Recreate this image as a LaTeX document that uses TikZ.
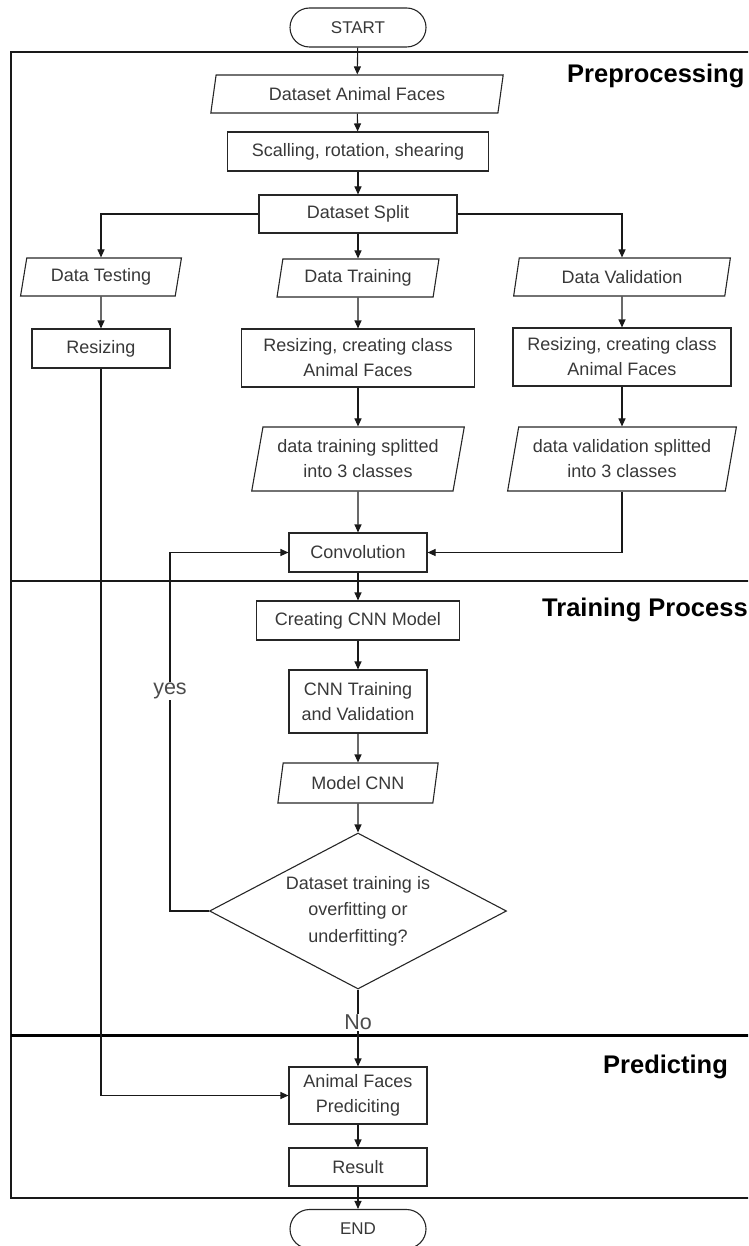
\documentclass[tikz,border=0pt]{standalone}
\usepackage{fontspec}
\setmainfont{Liberation Sans}
\usetikzlibrary{shapes.geometric,shapes.misc,arrows.meta}
\begin{document}
\begin{tikzpicture}[x=1pt,y=-1pt,
  base/.style={draw=black!85, line width=1.1pt, inner sep=0pt, align=center,
    text=black!78, font=\fontsize{18}{25}\selectfont},
  proc/.style={base, rectangle},
  io/.style={base, trapezium, trapezium left angle=76, trapezium right angle=104,
    trapezium stretches=true},
  dec/.style={base, diamond, shape aspect=1.9, font=\fontsize{18}{26.5}\selectfont},
  term/.style={base, rounded rectangle, minimum width=136, minimum height=39,
    font=\fontsize{17}{20}\selectfont},
  arr/.style={draw=black!90, line width=1.1pt, -{Triangle[length=8pt,width=7pt]}},
  ln/.style={draw=black!90, line width=1.1pt},
  frame/.style={draw=black!90, line width=1.4pt},
  title/.style={font=\fontsize{25.5}{28}\selectfont\bfseries, text=black, inner sep=0pt, anchor=base west},
  lbl/.style={font=\fontsize{21.5}{24}\selectfont, text=black!70, fill=white, inner sep=1pt}
]
\useasboundingbox (0,0) rectangle (748,1246);
\clip (0,0) rectangle (748,1246);

% frame and dividers
\draw[frame] (11,52) rectangle (770,1198);
\draw[frame] (11,581) -- (770,581);
\draw[draw=black, line width=3pt] (11,1035) -- (770,1035);

% titles
\node[title] (t1) at (567,83) {Preprocessing};
\node[title] (t2) at (542,616) {Training Process};
\node[title] (t3) at (603,1073) {Predicting};

% nodes
\node[term] (start) at (358,27.5) {START};
\node[io, minimum width=293, minimum height=38] (data) at (357,94) {Dataset Animal Faces};
\node[proc, minimum width=261, minimum height=39] (scal) at (358,151.5) {Scalling, rotation, shearing};
\node[proc, minimum width=198, minimum height=38] (split) at (358,214) {Dataset Split};
\node[io, minimum width=161, minimum height=38] (test) at (101,277) {Data Testing};
\node[io, minimum width=162, minimum height=38] (train) at (358,278) {Data Training};
\node[io, minimum width=217, minimum height=38] (val) at (622,277) {Data Validation};
\node[proc, minimum width=138, minimum height=39] (rtest) at (101,348.5) {Resizing};
\node[proc, minimum width=233, minimum height=58] (rtrain) at (358,358) {Resizing, creating class\\Animal Faces};
\node[proc, minimum width=218, minimum height=58] (rval) at (622,357) {Resizing, creating class\\Animal Faces};
\node[io, minimum width=213, minimum height=64] (strain) at (358,459) {data training splitted\\into 3 classes};
\node[io, minimum width=229, minimum height=64] (sval) at (622,459) {data validation splitted\\into 3 classes};
\node[proc, minimum width=138, minimum height=39] (conv) at (358,552.5) {Convolution};
\node[proc, minimum width=203, minimum height=39] (cnnm) at (358,620.5) {Creating CNN Model};
\node[proc, minimum width=138, minimum height=63] (cnnt) at (358,701.5) {CNN Training\\and Validation};
\node[io, minimum width=161, minimum height=40] (model) at (358,783) {Model CNN};
\node[dec, minimum width=297, minimum height=156] (dec) at (358,911) {Dataset training is\\overfitting or\\underfitting?};
\node[proc, minimum width=138, minimum height=57] (pred) at (358,1095.5) {Animal Faces\\Prediciting};
\node[proc, minimum width=138, minimum height=38] (res) at (358,1167) {Result};
\node[term] (end) at (358,1229) {END};

\coordinate (yesc) at (170,552.5);

% connectors
\draw[arr] (start) -- (data);
\draw[arr] (data) -- (scal);
\draw[arr] (scal) -- (split);
\draw[arr] (split.west) -| (test.north);
\draw[arr] (split.east) -| (val.north);
\draw[arr] (split) -- (train);
\draw[arr] (test) -- (rtest);
\draw[arr] (train) -- (rtrain);
\draw[arr] (val) -- (rval);
\draw[arr] (rtrain) -- (strain);
\draw[arr] (rval) -- (sval);
\draw[arr] (strain) -- (conv);
\draw[arr] (sval.south) |- (conv.east);
\draw[arr] (conv) -- (cnnm);
\draw[arr] (cnnm) -- (cnnt);
\draw[arr] (cnnt) -- (model);
\draw[arr] (model) -- (dec);
\draw[arr] (dec.west) -| (yesc) -- (conv.west);
\draw[arr] (dec.south) -- (pred.north);
\draw[arr] (rtest.south) |- (pred.west);
\draw[arr] (pred) -- (res);
\draw[arr] (res) -- (end);

% labels
\node[lbl] (yes) at (170,691) {yes};
\node[lbl] (no) at (358,1022) {No};
\end{tikzpicture}
\end{document}
